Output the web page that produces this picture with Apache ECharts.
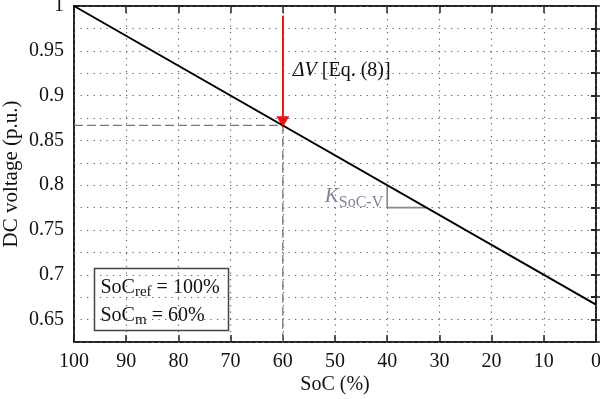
<!DOCTYPE html>
<html>
<head>
<meta charset="utf-8">
<script src="https://cdn.jsdelivr.net/npm/echarts@6/dist/echarts.min.js"></script>
<style>
  html, body { margin: 0; padding: 0; background: #fff; }
  #chart { width: 600px; height: 399px; }
</style>
</head>
<body>
<div id="chart"></div>
<script>
// data
const socLine = [100, 0];
const voltLine = [1.0, 0.6667];
const socRef = 100;
const socM = 60;
const voltAtM = 0.8667;
const arrowTop = 0.989;
const slopeX = [40, 40, 32.5];
const slopeY = [0.8, 0.775, 0.775];
const yLabels = [0.65, 0.7, 0.75, 0.8, 0.85, 0.9, 0.95, 1];

const FONT = 'Liberation Serif';
const chart = echarts.init(document.getElementById('chart'));

// only label every other tick (0.05 steps)
const yFmt = v => {
  const r = Math.round(v * 1000) / 1000;
  return yLabels.some(l => Math.abs(l - r) < 1e-6) ? String(r) : '';
};

const dotted = { color: '#666', width: 1.2, type: [1.3, 5.2] };
const tickStyle = { color: '#222', width: 1.5 };

const option = {
  backgroundColor: '#fff',
  animation: false,
  textStyle: { fontFamily: FONT },
  grid: {
    left: 74, right: 4, top: 6, bottom: 57,
    outerBoundsMode: 'none', containLabel: false,
    show: true, borderColor: '#222', borderWidth: 2
  },
  xAxis: [
    {
      type: 'value', inverse: true, min: 0, max: 100, interval: 10,
      name: 'SoC (%)', nameLocation: 'middle', nameGap: 33, nameMoveOverlap: false,
      nameTextStyle: { fontSize: 20, color: '#111', fontFamily: FONT },
      axisLine: { show: false },
      axisTick: { show: true, inside: true, length: 7, lineStyle: tickStyle },
      axisLabel: { fontSize: 20, color: '#111', margin: 10, fontFamily: FONT },
      splitLine: { show: true, lineStyle: dotted }
    },
    {
      type: 'value', inverse: true, min: 0, max: 100, interval: 10, position: 'top',
      axisLine: { show: false },
      axisTick: { show: true, inside: true, length: 7, lineStyle: tickStyle },
      axisLabel: { show: false },
      splitLine: { show: false }
    }
  ],
  yAxis: [
    {
      type: 'value', min: 0.625, max: 1, interval: 0.025,
      name: 'DC voltage (p.u.)', nameLocation: 'middle', nameGap: 52, nameMoveOverlap: false,
      nameTextStyle: { fontSize: 21, color: '#111', fontFamily: FONT },
      axisLine: { show: false },
      axisTick: { show: true, inside: true, length: 5, lineStyle: tickStyle },
      axisLabel: { fontSize: 20, color: '#111', margin: 10, fontFamily: FONT, formatter: yFmt },
      splitLine: { show: true, lineStyle: dotted }
    },
    {
      type: 'value', min: 0.625, max: 1, interval: 0.025, position: 'right',
      axisLine: { show: false },
      axisTick: { show: true, inside: true, length: 5, lineStyle: { color: '#222', width: 2 } },
      axisLabel: { show: false },
      splitLine: { show: false }
    }
  ],
  series: [
    {
      // projection lines at SoC_m
      type: 'line',
      data: [[socRef, voltAtM], [socM, voltAtM], [socM, 0.625]],
      symbol: 'none',
      lineStyle: { color: '#777', width: 1.3, type: [9, 4] },
      z: 3
    },
    {
      // slope triangle
      type: 'line',
      data: slopeX.map((x, i) => [x, slopeY[i]]),
      symbol: 'none',
      lineStyle: { color: '#888', width: 1.6 },
      z: 3,
      markPoint: {
        symbol: 'circle', symbolSize: 0,
        data: [{ coord: [40, 0.787] }],
        label: {
          show: true, position: 'left', distance: 4,
          formatter: '{k|K}{s|SoC-V}',
          rich: {
            k: { fontSize: 21, fontStyle: 'italic', color: '#85859a', fontFamily: FONT },
            s: { fontSize: 16, color: '#85859a', fontFamily: FONT, padding: [11, 0, 0, 0] }
          }
        }
      }
    },
    {
      // main line
      type: 'line',
      data: socLine.map((x, i) => [x, voltLine[i]]),
      symbol: 'none',
      lineStyle: { color: '#000', width: 2 },
      z: 5
    },
    {
      // delta V arrow
      type: 'line',
      data: [[socM, arrowTop], [socM, voltAtM]],
      symbol: 'none',
      lineStyle: { color: '#ee1111', width: 1.6 },
      z: 6,
      markLine: {
        silent: true,
        symbol: ['none', 'triangle'],
        symbolSize: [13, 11],
        label: { show: false },
        lineStyle: { color: '#ee1111', width: 1.6, type: 'solid' },
        data: [[{ coord: [socM, arrowTop] }, { coord: [socM, voltAtM + 0.004] }]]
      },
      markPoint: {
        symbol: 'circle', symbolSize: 0,
        data: [{ coord: [socM, 0.928] }],
        label: {
          show: true, position: 'right', distance: 10,
          formatter: '{i|ΔV}{n|[Eq. (8)]}',
          rich: {
            i: { fontSize: 20, fontStyle: 'italic', color: '#111', fontFamily: FONT, padding: [0, 5, 0, 0] },
            n: { fontSize: 20, color: '#111', fontFamily: FONT }
          }
        }
      }
    }
  ],
  graphic: [
    {
      type: 'group', left: 92, top: 266,
      children: [
        {
          type: 'rect', shape: { x: 0, y: 0, width: 134, height: 62 },
          style: { fill: 'none', stroke: '#444', lineWidth: 1.5 }
        },
        {
          type: 'text', x: 6, y: 5,
          style: {
            text: 'SoC{s|ref} = 100%\nSoC{s|m} = 60%',
            fontSize: 20, fontFamily: FONT, fill: '#111', lineHeight: 28,
            rich: { s: { fontSize: 15, fontFamily: FONT, padding: [10, 0, 0, 0] } }
          }
        }
      ]
    }
  ]
};

chart.setOption(option);
</script>
</body>
</html>
